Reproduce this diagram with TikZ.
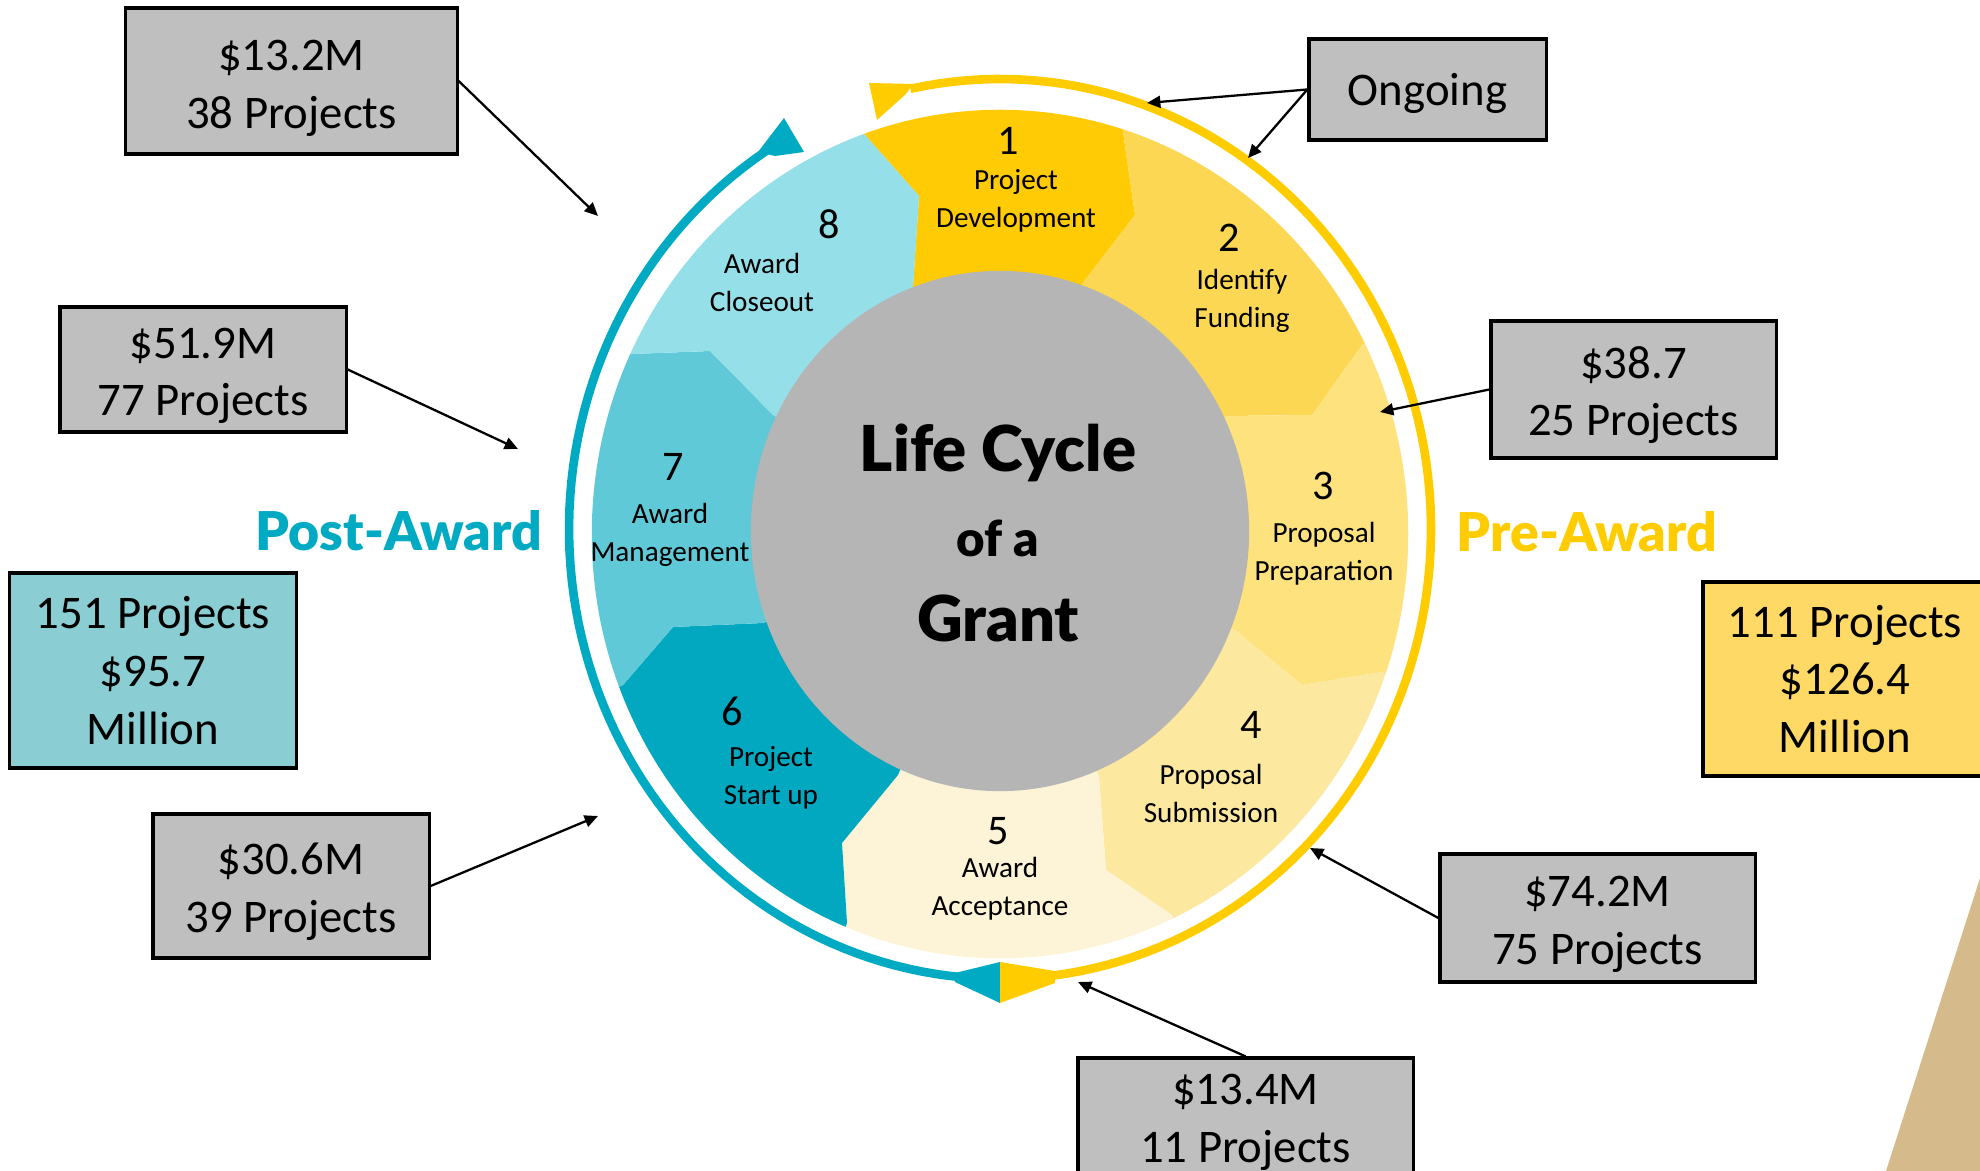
\documentclass[tikz,border=0pt]{standalone}
\usepackage{fontspec}
\setmainfont{Carlito}
\newfontfamily\roundfont{Lato Black}
\usepackage{tikz}
\usetikzlibrary{calc,arrows.meta}

\definecolor{segA}{RGB}{255,203,5}
\definecolor{segB}{RGB}{251,215,84}
\definecolor{segC}{RGB}{253,226,125}
\definecolor{segD}{RGB}{253,232,160}
\definecolor{segE}{RGB}{253,243,214}
\definecolor{segF}{RGB}{2,168,192}
\definecolor{segG}{RGB}{96,201,216}
\definecolor{segH}{RGB}{149,223,232}
\definecolor{hub}{RGB}{181,181,181}
\definecolor{tealring}{RGB}{0,170,194}
\definecolor{goldring}{RGB}{255,204,0}
\definecolor{boxgray}{RGB}{191,191,191}
\definecolor{postfill}{RGB}{138,205,210}
\definecolor{prefill}{RGB}{255,217,102}
\definecolor{sand}{RGB}{213,186,140}

\newcommand{\toppad}[1]{\rule{0pt}{#1}}

\tikzset{
  infobox/.style={draw=black, line width=0.9pt, fill=boxgray, align=center,
    inner sep=0pt, font=\fontsize{13.3}{16.4}\selectfont},
  seglabel/.style={align=center, inner sep=0pt, font=\fontsize{8.3}{10.8}\selectfont},
  segnum/.style={inner sep=0pt, font=\fontsize{12}{14}\selectfont},
  hubtext/.style={inner sep=0pt, anchor=base, font=\roundfont\fontsize{18}{20}\selectfont},
  phase/.style={inner sep=0pt, anchor=base, font=\roundfont\fontsize{15.2}{18}\selectfont},
  pointer/.style={-{Triangle[length=3.8pt,width=3.4pt]}, line width=0.65pt},
  ringline/.style={line width=2.45pt},
}

\begin{document}
\begin{tikzpicture}[x=.01cm, y=-.01cm]
\path[use as bounding box] (0,0) rectangle (1980,1171);
\clip (0,0) rectangle (1980,1171);

\fill[sand] (1980,878) -- (1886,1171) -- (1980,1171) -- cycle;

% ring of steps
\coordinate (C) at (1000,534);
\coordinate (o81) at (865,135);  \coordinate (k81) at (919,196);  \coordinate (g81) at (913,287);
\coordinate (o12) at (1123,132); \coordinate (k12) at (1135,215); \coordinate (g12) at (1082,284);
\coordinate (o23) at (1362,345); \coordinate (k23) at (1312,415); \coordinate (g23) at (1227,416);
\coordinate (o34) at (1382,672); \coordinate (k34) at (1302,685); \coordinate (g34) at (1235,630);
\coordinate (o45) at (1172,915); \coordinate (k45) at (1106,870); \coordinate (g45) at (1099,777);
\coordinate (o56) at (847,923);  \coordinate (k56) at (842,843);  \coordinate (g56) at (898,775);
\coordinate (o67) at (623,685);  \coordinate (k67) at (673,627);  \coordinate (g67) at (763,623);
\coordinate (o78) at (632,354);  \coordinate (k78) at (710,351);  \coordinate (g78) at (773,415);

\begin{scope}
\clip (C) ellipse [x radius=4.08cm, y radius=4.24cm];
\foreach \a/\b/\c in {81/12/segA, 12/23/segB, 23/34/segC, 34/45/segD,
                      45/56/segE, 56/67/segF, 67/78/segG, 78/81/segH} {
 \fill[\c] (C) -- (g\a) -- (k\a) -- (o\a) -- ($(C)!2!(o\a)$)
   -- ($(C)!2!(o\b)$) -- (o\b) -- (k\b) -- (g\b) -- cycle;
}
\end{scope}
\fill[hub] (1000,531) ellipse [x radius=2.49cm, y radius=2.6cm];

\foreach \n/\nx/\ny/\lx/\ly/\t in {1/1008/141/1016/201/Project\\Development,
    2/1229/238/1242/301/Identify\\Funding,
    3/1323/486/1324/554/Proposal\\Preparation,
    4/1251/725/1211/793/Proposal\\Submission,
    5/998/831/1000/889/Award\\Acceptance,
    6/732/711/771/778/Project\\Start up,
    7/673/467/670/535/Award\\Management,
    8/829/224/762/282/Award\\Closeout} {
 \node[segnum] (n\n) at (\nx,\ny) {\n};
 \node[seglabel] (l\n) at (\lx,\ly) {\t};
}

\node[hubtext] (life) at (998,472) {Life Cycle};
\node[hubtext, font=\roundfont\fontsize{14}{16}\selectfont] (ofa) at (998,557) {of a};
\node[hubtext] (grant) at (998,642) {Grant};

% outer arrows
\draw[ringline, tealring] plot[domain=95:239, samples=80] ({1000+431*cos(\x)}, {529+450*sin(\x)});
\draw[ringline, goldring] plot[domain=258:443, samples=100] ({1000+431*cos(\x)}, {529+450*sin(\x)});
\fill[tealring] (758,152) -- (784,118) -- (804,152) -- (775,156) -- cycle;
\fill[goldring] (869,83) -- (913,84) -- (906,94) -- (877,120) -- cycle;
\fill[tealring] (955,973) -- (1000,962) -- (1000,1003) -- (955,982) -- cycle;
\fill[goldring] (1000,962) -- (1055,971) -- (1055,983) -- (1000,1003) -- cycle;

\node[phase, text=tealring] (post) at (399,551) {Post-Award};
\node[phase, text=goldring] (pre) at (1587,552) {Pre-Award};

% totals and counts
\node[infobox, minimum width=3.31cm, minimum height=1.46cm] (close) at (291.5,81) {\toppad{12.8pt}\$13.2M\\38 Projects};
\node[infobox, minimum width=2.86cm, minimum height=1.25cm] (manage) at (203,369.5) {\toppad{12.3pt}\$51.9M\\77 Projects};
\node[infobox, fill=postfill, minimum width=2.86cm, minimum height=1.95cm] (postsum) at (153,670.5) {151 Projects\\\$95.7\\Million};
\node[infobox, minimum width=2.76cm, minimum height=1.44cm] (startup) at (291,886) {\toppad{12.3pt}\$30.6M\\39 Projects};
\node[infobox, minimum width=2.37cm, minimum height=1.01cm] (ongoing) at (1427.5,89.5) {\toppad{11.5pt}Ongoing};
\node[infobox, minimum width=2.85cm, minimum height=1.37cm] (prep) at (1633.5,389.5) {\toppad{12.3pt}\$38.7\\25 Projects};
\node[infobox, fill=prefill, minimum width=2.84cm, minimum height=1.94cm] (presum) at (1845,679) {111 Projects\\\$126.4\\Million};
\node[infobox, minimum width=3.15cm, minimum height=1.28cm] (submit) at (1597.5,918) {\toppad{12.3pt}\$74.2M\\75 Projects};
\node[infobox, minimum width=3.35cm, minimum height=1.28cm] (accept) at (1245.5,1122) {\$13.4M\\11 Projects};

\coordinate (tclose) at (598,216);
\coordinate (tmanage) at (518,449);
\coordinate (tstart) at (598,816);
\coordinate (tongA) at (1147,103);
\coordinate (tongB) at (1248,158);
\coordinate (tprep) at (1380,412);
\coordinate (tsubmit) at (1310,848);
\coordinate (taccept) at (1078,982);

\draw[pointer] (close.east) -- (tclose);
\draw[pointer] (manage.east) -- (tmanage);
\draw[pointer] (startup.east) -- (tstart);
\draw[pointer] (ongoing.west) -- (tongA);
\draw[pointer] (ongoing.west) -- (tongB);
\draw[pointer] (prep.west) -- (tprep);
\draw[pointer] (submit.west) -- (tsubmit);
\draw[pointer] (accept.north) -- (taccept);
\end{tikzpicture}
\end{document}
